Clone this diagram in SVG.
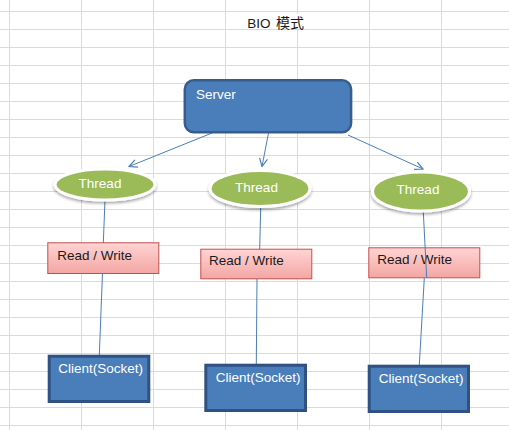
<svg xmlns="http://www.w3.org/2000/svg" width="509" height="430" viewBox="0 0 509 430">
<defs>
<linearGradient id="rw" x1="0" y1="0" x2="0" y2="1">
<stop offset="0" stop-color="#ffd4d3"/>
<stop offset="1" stop-color="#f3a6a3"/>
</linearGradient>
<marker id="arr" markerWidth="10" markerHeight="10" refX="9" refY="5" orient="auto" markerUnits="userSpaceOnUse">
<path d="M1,1 L9,5 L1,9" fill="none" stroke="#4a7ebb" stroke-width="1.2"/>
</marker>
<filter id="sh" x="-20%" y="-20%" width="140%" height="150%">
<feGaussianBlur in="SourceAlpha" stdDeviation="1.5"/>
<feOffset dx="0" dy="1.5" result="b"/>
<feComponentTransfer><feFuncA type="linear" slope="0.35"/></feComponentTransfer>
<feMerge><feMergeNode/><feMergeNode in="SourceGraphic"/></feMerge>
</filter>
</defs>
<style>
.grid line{stroke:#d9dcdf;stroke-width:1}
.lbl{font-family:"Liberation Sans",Arial,sans-serif;font-size:13.5px;fill:#ffffff}
.dark{font-family:"Liberation Sans",Arial,sans-serif;font-size:13.5px;fill:#1a1a1a}
.thread{fill:#9bbb59;stroke:#ffffff;stroke-width:3}
.rwbox{fill:url(#rw);stroke:#c0504d;stroke-width:1}
.client{fill:#4a7ebb;stroke:#2f5282;stroke-width:3}
.conn{stroke:#4a7ebb;stroke-width:1;fill:none}
</style>
<rect x="0" y="0" width="509" height="430" fill="#ffffff"/>
<g class="grid">
<line x1="9.5" y1="0" x2="9.5" y2="430"/>
<line x1="81.5" y1="0" x2="81.5" y2="430"/>
<line x1="153.5" y1="0" x2="153.5" y2="430"/>
<line x1="225.5" y1="0" x2="225.5" y2="430"/>
<line x1="297.5" y1="0" x2="297.5" y2="430"/>
<line x1="369.5" y1="0" x2="369.5" y2="430"/>
<line x1="441.5" y1="0" x2="441.5" y2="430"/>
<line x1="0" y1="11.5" x2="509" y2="11.5"/>
<line x1="0" y1="29.5" x2="509" y2="29.5"/>
<line x1="0" y1="47.5" x2="509" y2="47.5"/>
<line x1="0" y1="65.5" x2="509" y2="65.5"/>
<line x1="0" y1="83.5" x2="509" y2="83.5"/>
<line x1="0" y1="101.5" x2="509" y2="101.5"/>
<line x1="0" y1="119.5" x2="509" y2="119.5"/>
<line x1="0" y1="137.5" x2="509" y2="137.5"/>
<line x1="0" y1="155.5" x2="509" y2="155.5"/>
<line x1="0" y1="173.5" x2="509" y2="173.5"/>
<line x1="0" y1="191.5" x2="509" y2="191.5"/>
<line x1="0" y1="209.5" x2="509" y2="209.5"/>
<line x1="0" y1="227.5" x2="509" y2="227.5"/>
<line x1="0" y1="245.5" x2="509" y2="245.5"/>
<line x1="0" y1="263.5" x2="509" y2="263.5"/>
<line x1="0" y1="281.5" x2="509" y2="281.5"/>
<line x1="0" y1="299.5" x2="509" y2="299.5"/>
<line x1="0" y1="317.5" x2="509" y2="317.5"/>
<line x1="0" y1="335.5" x2="509" y2="335.5"/>
<line x1="0" y1="353.5" x2="509" y2="353.5"/>
<line x1="0" y1="371.5" x2="509" y2="371.5"/>
<line x1="0" y1="389.5" x2="509" y2="389.5"/>
<line x1="0" y1="407.5" x2="509" y2="407.5"/>
<line x1="0" y1="425.5" x2="509" y2="425.5"/>
</g>
<g id="title">
<rect x="244" y="14" width="64" height="15" fill="#ffffff"/>
<text x="247.3" y="28.3" class="dark" font-size="13"><tspan font-family="'Liberation Sans',Arial,sans-serif">BIO</tspan><tspan x="276" font-family="'Noto Sans CJK SC',sans-serif" font-size="14">模式</tspan></text>
</g>
<g id="rw3">
<rect x="368.8" y="247.8" width="111" height="30" class="rwbox"/>
<text x="377.3" y="264.3" class="dark">Read / Write</text>
</g>
<g id="connectors">
<line x1="212" y1="133" x2="129" y2="166.5" class="conn" marker-end="url(#arr)"/>
<line x1="268.5" y1="133" x2="262" y2="166.5" class="conn" marker-end="url(#arr)"/>
<line x1="348" y1="135" x2="423" y2="169" class="conn" marker-end="url(#arr)"/>
<line x1="105" y1="200" x2="103.3" y2="243" class="conn"/>
<line x1="102.5" y1="273" x2="99.3" y2="355" class="conn"/>
<line x1="260.7" y1="207" x2="259.7" y2="249" class="conn"/>
<line x1="257" y1="279" x2="256.3" y2="364" class="conn"/>
<line x1="423.3" y1="212" x2="426.7" y2="278" class="conn"/>
<line x1="424.3" y1="278" x2="419.3" y2="365" class="conn"/>
</g>
<g id="server">
<rect x="184.8" y="80.2" width="166.3" height="52" rx="9" ry="9" fill="#4a7ebb" stroke="#385d8a" stroke-width="2.5"/>
<text x="196" y="99.3" class="lbl">Server</text>
</g>
<g id="thread1">
<ellipse cx="105" cy="184.5" rx="50" ry="15.5" class="thread" filter="url(#sh)"/>
<text x="100" y="188.3" class="lbl" text-anchor="middle">Thread</text>
</g>
<g id="thread2">
<ellipse cx="260" cy="188.5" rx="50" ry="18" class="thread" filter="url(#sh)"/>
<text x="256.5" y="191.7" class="lbl" text-anchor="middle">Thread</text>
</g>
<g id="thread3">
<ellipse cx="421" cy="191.5" rx="48.5" ry="19.5" class="thread" filter="url(#sh)"/>
<text x="418" y="194.3" class="lbl" text-anchor="middle">Thread</text>
</g>
<g id="rw1">
<rect x="47.8" y="242.8" width="111" height="30.7" class="rwbox"/>
<text x="57.3" y="260" class="dark">Read / Write</text>
</g>
<g id="rw2">
<rect x="200.8" y="249.2" width="111" height="29.6" class="rwbox"/>
<text x="209" y="265" class="dark">Read / Write</text>
</g>
<g id="client1">
<rect x="49.2" y="356.2" width="99.6" height="45.3" class="client"/>
<text x="58.3" y="373.3" class="lbl" font-size="13">Client(Socket)</text>
</g>
<g id="client2">
<rect x="205.8" y="365.2" width="99.7" height="45.3" class="client"/>
<text x="215.7" y="382.3" class="lbl" font-size="13">Client(Socket)</text>
</g>
<g id="client3">
<rect x="369.2" y="366.2" width="99.3" height="45.3" class="client"/>
<text x="378.7" y="383.3" class="lbl" font-size="13">Client(Socket)</text>
</g>
</svg>
